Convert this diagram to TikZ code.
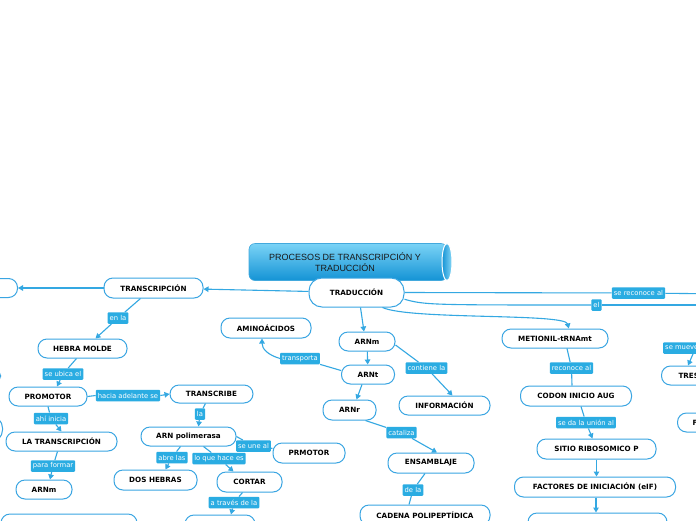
\documentclass[tikz,border=0pt]{standalone}
\usepackage{fontspec}
\setmainfont{DejaVu Sans}
\newfontfamily\titlefam{Liberation Sans}
\usetikzlibrary{arrows.meta,calc}
\definecolor{bordc}{HTML}{3AA5E2}
\definecolor{labc}{HTML}{2AACE2}
\definecolor{linec}{HTML}{34A8E2}
\definecolor{ttop}{HTML}{7AD3F6}
\definecolor{tbot}{HTML}{1493D5}
\tikzset{
  box/.style={draw=bordc, line width=1pt, rounded corners=9pt, fill=white,
    minimum height=19pt, inner sep=0pt, text=black,
    font=\bfseries\fontsize{7.2}{8.5}\selectfont},
  lab/.style={fill=labc, text=white, inner xsep=2pt, inner ysep=0pt,
    minimum height=11.5pt, rounded corners=1pt,
    font=\fontsize{6.8}{8}\selectfont},
  con/.style={draw=linec, line width=1.1pt},
  arr/.style={con, -{Triangle[length=5pt,width=5.5pt]}}
}
\begin{document}
\begin{tikzpicture}[x=1pt,y=-1pt]
\useasboundingbox (0,0) rectangle (696,520);
\fill[white] (0,0) rectangle (696,520);
\clip (0,0) rectangle (696,520);

% title cylinder
\path[top color=ttop, bottom color=tbot, draw=tbot!80, line width=0.6pt, rounded corners=6pt]
  (447,243.5) -- (249,243.5) -- (249,280.5) -- (447,280.5) -- cycle;
\path[left color=tbot, right color=ttop!90, draw=white, line width=1pt]
  (447,262) ellipse [x radius=5, y radius=18.5];
\node[font=\titlefam\fontsize{9}{11}\selectfont, align=center, text=black!90] (title) at (345,262.5)
  {PROCESOS DE TRANSCRIPCIÓN Y\\TRADUCCIÓN};

% nodes
\node[box, minimum width=95pt, minimum height=29pt, rounded corners=13pt] (traduc) at (356.5,292.5) {TRADUCCIÓN};
\node[box, minimum width=99pt, minimum height=20pt] (transc) at (153.5,288) {TRANSCRIPCIÓN};
\node[box, minimum width=80pt, anchor=east] (leftA) at (18,288) {};
\node[box, minimum width=60pt, minimum height=16pt, anchor=east] (leftB) at (1,376) {};
\node[box, minimum width=80pt, minimum height=26pt, anchor=east, rounded corners=12pt] (leftC) at (3,429) {};
\node[box, minimum width=89pt] (hebra) at (82.5,348.5) {HEBRA MOLDE};
\node[box, minimum width=78pt] (promotor) at (48,396.5) {PROMOTOR};
\node[box, minimum width=111pt] (latrans) at (61.5,441.5) {LA TRANSCRIPCIÓN};
\node[box, minimum width=56pt] (arnmL) at (44,489.5) {ARNm};
\node[box, minimum width=136pt, minimum height=20pt] (blnode) at (69,524) {};
\node[box, minimum width=83pt, minimum height=18pt] (transcribe) at (211.5,394) {TRANSCRIBE};
\node[box, minimum width=95pt] (arnpol) at (188.5,436.5) {ARN polimerasa};
\node[box, minimum width=83pt, minimum height=20pt] (doshebras) at (155.5,480) {DOS HEBRAS};
\node[box, minimum width=65pt, minimum height=20pt] (cortar) at (249.5,482) {CORTAR};
\node[box, minimum width=72pt, minimum height=20pt] (prmotor) at (309,453) {PRMOTOR};
\node[box, minimum width=70pt, minimum height=20pt] (bcnode) at (220,525) {};
\node[box, minimum width=90pt, minimum height=20pt] (amino) at (266,328) {AMINOÁCIDOS};
\node[box, minimum width=56pt] (arnmM) at (367,341.5) {ARNm};
\node[box, minimum width=53pt] (arnt) at (368,374.5) {ARNt};
\node[box, minimum width=53pt, minimum height=20pt] (arnr) at (349.5,410) {ARNr};
\node[box, minimum width=91pt] (info) at (444.5,405.5) {INFORMACIÓN};
\node[box, minimum width=86pt, minimum height=20pt] (ensam) at (431,463) {ENSAMBLAJE};
\node[box, minimum width=130pt, minimum height=20pt] (cadena) at (425,515) {CADENA POLIPEPTÍDICA};
\node[box, minimum width=106pt] (meti) at (555,338.5) {METIONIL-tRNAmt};
\node[box, minimum width=111pt, minimum height=20pt] (codon) at (576,396) {CODON INICIO AUG};
\node[box, minimum width=119pt, minimum height=20pt] (sitio) at (596.5,449) {SITIO RIBOSOMICO P};
\node[box, minimum width=161pt, minimum height=20pt] (factores) at (595,487) {FACTORES DE INICIACIÓN (eIF)};
\node[box, minimum width=139pt, minimum height=20pt] (bottomR) at (597.5,523) {};
\node[box, anchor=west, text width=60pt, align=left, inner xsep=17pt, minimum height=19pt] (tres) at (661,375.5) {TRES};
\node[box, anchor=west, text width=60pt, align=left, inner xsep=15pt, minimum height=19pt] (fnode) at (677,422.5) {F};

% labels
\node[lab] (enla) at (118,318) {en la};
\node[lab] (seubica) at (63,374) {se ubica el};
\node[lab] (ahi) at (51,418.5) {ahí inicia};
\node[lab] (para) at (53,466) {para formar};
\node[lab] (hacia) at (128,395.5) {hacia adelante se};
\node[lab] (lalab) at (200,414) {la};
\node[lab] (abre) at (172,457.5) {abre las};
\node[lab] (loque) at (219,458.5) {lo que hace es};
\node[lab] (seune) at (253.5,446) {se une al};
\node[lab] (atraves) at (234,502.5) {a través de la};
\node[lab] (transporta) at (300,358.5) {transporta};
\node[lab] (contiene) at (426.5,368) {contiene la};
\node[lab] (cataliza) at (401.5,432.5) {cataliza};
\node[lab] (dela) at (413,490) {de la};
\node[lab] (reconoce) at (571.5,368) {reconoce al};
\node[lab] (seda) at (586,422.5) {se da la unión al};
\node[lab, anchor=west] (semueve) at (663,348) {se mueve};
\node[lab] (reconal) at (638.5,293) {se reconoce al};
\node[lab] (ellab) at (596.5,305) {el};

\coordinate (offA) at (730,294);
\coordinate (offB) at (730,305);
\coordinate (offD) at (760,348);

% connectors
\draw[arr] (traduc) -- (transc);
\draw[arr] (transc) -- (leftA);
\draw[con] ($(transc.south)+(-13,0)$) -- (enla);
\draw[arr] (enla) -- ($(hebra.north)+(13,0)$);
\draw[con] ($(hebra.south)+(-6,0)$) -- (seubica);
\draw[arr] (seubica) -- ($(promotor.north)+(9,0)$);
\draw[con] (promotor.south) -- (ahi);
\draw[arr] (ahi) -- (latrans.north);
\draw[con] ($(latrans.south)+(-4,0)$) -- (para);
\draw[arr] (para) -- ($(arnmL.north)+(6,0)$);
\draw[con] (promotor.east) -- (hacia.west);
\draw[arr] (hacia.east) -- (transcribe.west);
\draw[con] ($(transcribe.south)+(-6,0)$) -- (lalab);
\draw[arr] (lalab) -- ($(arnpol.north)+(10,0)$);
\draw[con] ($(arnpol.south)+(-8,0)$) -- (abre);
\draw[arr] (abre) -- ($(doshebras.north)+(10,0)$);
\draw[con] ($(arnpol.south)+(15,0)$) -- (loque);
\draw[arr] (loque) -- ($(cortar.north)+(-16,0)$);
\draw[con] (arnpol.east) -- (seune);
\draw[con] (seune) -- (prmotor);
\draw[con] ($(cortar.south)+(-7,0)$) -- (atraves);
\draw[arr] (atraves) -- ($(bcnode.north)+(11,0)$);

\draw[arr] ($(traduc.south)+(4,0)$) -- ($(arnmM.north)+(-3,0)$);
\draw[arr] (arnmM) -- (arnt);
\draw[arr] ($(arnt.south)+(-6,0)$) -- ($(arnr.north)+(7,0)$);
\draw[con] ($(arnt.west)+(0,-4)$) -- (transporta);
\draw[arr] (transporta.west) .. controls (268,355) and (262,349) .. ($(amino.south)+(-4,0)$);
\draw[con] ($(arnmM.east)+(0,3.5)$) -- (contiene);
\draw[arr] (contiene) -- ($(info.north)+(8,0)$);
\draw[con] ($(arnr.south)+(16,0)$) -- (cataliza);
\draw[arr] (cataliza) -- ($(ensam.north)+(6,0)$);
\draw[con] ($(ensam.south)+(-6,0)$) -- (dela);
\draw[con] (dela) -- ($(cadena.north)+(-16,0)$);

\draw[con] (traduc.east) -- (reconal);
\draw[con] (reconal) -- (offA);
\draw[con] (traduc.-8) .. controls (425,305) and (430,305) .. (ellab.west);
\draw[con] (ellab) -- (offB);
\draw[arr] (traduc.-30) .. controls (410,320) and (565,313) .. (meti.36);
\draw[con] ($(meti.south)+(12,0)$) -- (reconoce);
\draw[con] (reconoce) -- ($(codon.north)+(-4,0)$);
\draw[con] ($(codon.south)+(5,0)$) -- (seda);
\draw[arr] (seda) -- ($(sitio.north)+(-4,0)$);
\draw[arr] (sitio.south) -- (sitio.south |- factores.north);
\draw[arr] ($(factores.south)+(1,0)$) -- ($(factores.south |- bottomR.north)+(1,0)$);
\draw[con] (offD) -- (semueve);
\draw[arr] ($(semueve.south west)+(30,0)$) -- ($(tres.north west)+(27,0)$);
\end{tikzpicture}
\end{document}
